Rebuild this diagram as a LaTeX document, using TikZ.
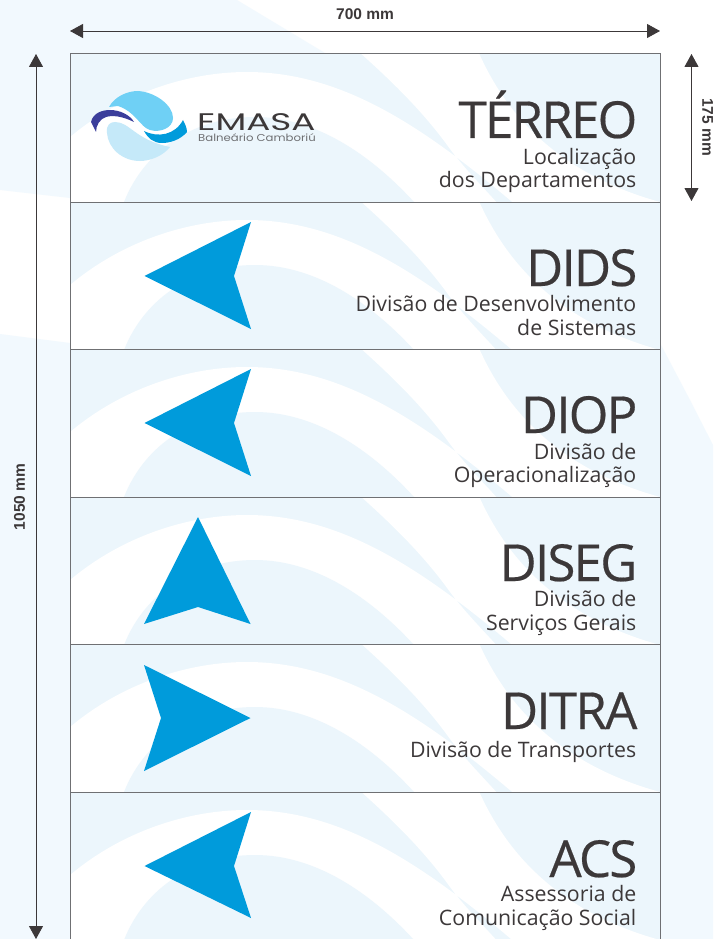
\documentclass[tikz,border=0pt]{standalone}
\usepackage{fontspec}
\setmainfont{Open Sans}
\newfontfamily\titlefont[LetterSpace=-3.5,FakeBold=0.35]{Open Sans}
\newfontfamily\dimfont{Liberation Sans}
\newfontfamily\logofont{Poppins}
\usetikzlibrary{arrows.meta}
\definecolor{paneltint}{HTML}{ECF6FC}
\definecolor{pagetint}{HTML}{F2F9FE}
\definecolor{inkdark}{HTML}{3C3839}
\definecolor{signblue}{HTML}{009BDB}
\definecolor{framegray}{HTML}{6F7073}
\definecolor{logolight}{HTML}{6FD0F5}
\definecolor{logopale}{HTML}{C5E9F9}
\definecolor{logonavy}{HTML}{3B3E9B}
\tikzset{
  titletext/.style={anchor=base east,inner sep=0pt,text=inkdark,font=\titlefont\fontsize{51}{51}\selectfont},
  subtext/.style={anchor=base east,inner sep=0pt,text=inkdark,font=\fontsize{21.3}{24}\selectfont},
  dimtext/.style={inner sep=0pt,text=inkdark,font=\dimfont\bfseries\fontsize{15.5}{15.5}\selectfont},
  dimline/.style={draw=inkdark,line width=0.9pt,{Triangle[length=13pt,width=14pt]}-{Triangle[length=13pt,width=14pt]}},
  panelframe/.style={draw=framegray,line width=1pt}
}
\newcommand{\panelbg}[1]{%
  \begin{scope}[shift={(0,#1)}]
    \begin{scope}
      \clip (70,0) rectangle (660,148);
      \fill[paneltint] (70,0) rectangle (660,148);
      \fill[white,even odd rule]
        (60,92) .. controls (110,45) and (180,18) .. (247,18) .. controls (340,18) and (420,70) .. (511,147) -- (530,165) -- (60,165) -- cycle
        (358,-3) .. controls (395,30) and (425,60) .. (450,95) .. controls (465,115) and (480,130) .. (500,152) -- (505,165) -- (680,165) -- (680,150) -- (660,148) .. controls (540,115) and (497,40) .. (478,-3) -- cycle;
      \fill[paneltint] (118,165) -- (124,148) .. controls (145,95) and (195,63) .. (255,63) .. controls (315,63) and (370,100) .. (414,148) -- (430,165) -- cycle;
    \end{scope}
    \draw[panelframe] (70,0) rectangle (660,148);
  \end{scope}}
\begin{document}
\begin{tikzpicture}[x=1pt,y=-1pt]
\useasboundingbox (0,0) rectangle (713,939);
\fill[white] (0,0) rectangle (713,939);
% page background
\fill[pagetint] (0,0) -- (237,0) -- (325,53) -- (325,210) -- (70,198) -- (0,190) -- cycle;
\fill[pagetint] (0,334) -- (70,343) -- (70,939) -- (0,939) -- cycle;
\fill[pagetint] (660,343) -- (690,400) -- (713,445) -- (713,939) -- (660,939) -- cycle;
% panels
\panelbg{54}\panelbg{202}\panelbg{349}\panelbg{497}\panelbg{644}\panelbg{792}
% logo
\fill[logolight] (109,107) .. controls (115,96) and (128,91) .. (138,91) .. controls (155,92) and (173,105) .. (173,118) .. controls (173,128) and (160,133) .. (150,130) .. controls (140,127) and (136,112) .. (118,106) -- cycle;
\fill[logopale] (107,133) .. controls (106,125) and (110,122) .. (115,122) .. controls (130,122) and (135,140) .. (170,147) .. controls (163,156) and (150,161) .. (140,161) .. controls (122,161) and (108,148) .. (107,133) -- cycle;
\fill[logonavy] (91,122) .. controls (93,113) and (102,110) .. (110,110) .. controls (120,110) and (130,115) .. (134,122) .. controls (122,116) and (112,115) .. (106,117) .. controls (100,119) and (96,125) .. (96,132) -- cycle;
\fill[signblue] (144,131) .. controls (158,138) and (175,135) .. (183,120) .. controls (185,124) and (187,128) .. (187,132) .. controls (180,140) and (170,143) .. (162,143) .. controls (153,143) and (148,138) .. (144,131) -- cycle;
\node[inner sep=0pt,anchor=base west,text=inkdark] (logoname) at (197,130.5) {\scalebox{1.49}[1]{\logofont\fontsize{24}{24}\selectfont EMASA}};
\node[inner sep=0pt,anchor=base west,text=framegray] (logoplace) at (198,141.5) {\scalebox{1.17}[1]{\logofont\fontsize{10}{10}\selectfont Balneário Camboriú}};
% sign arrows
\fill[signblue] (144.5,276) -- (251,222) -- (234,276) -- (251,329) -- cycle;
\fill[signblue] (144.5,423) -- (251,369) -- (234,423) -- (251,476) -- cycle;
\fill[signblue] (198,517) -- (250.5,624) -- (198,607) -- (144,624) -- cycle;
\fill[signblue] (144,665) -- (250.5,718) -- (144,771) -- (161,718) -- cycle;
\fill[signblue] (144.5,866) -- (251,812) -- (234,866) -- (251,918) -- cycle;
% texts
\node[titletext] (t1) at (637.5,138) {TÉRREO};
\node[subtext] (s1a) at (636.5,164) {Localização};
\node[subtext] (s1b) at (636.5,187) {dos Departamentos};
\node[titletext] (t2) at (637.5,286) {DIDS};
\node[subtext] (s2a) at (636.5,311) {Divisão de Desenvolvimento};
\node[subtext] (s2b) at (636.5,335) {de Sistemas};
\node[titletext] (t3) at (637.5,433) {DIOP};
\node[subtext] (s3a) at (636.5,459) {Divisão de};
\node[subtext] (s3b) at (636.5,482) {Operacionalização};
\node[titletext] (t4) at (637.5,581) {DISEG};
\node[subtext] (s4a) at (636.5,606) {Divisão de};
\node[subtext] (s4b) at (636.5,630) {Serviços Gerais};
\node[titletext] (t5) at (637.5,729) {DITRA};
\node[subtext] (s5a) at (636.5,757) {Divisão de Transportes};
\node[titletext] (t6) at (637.5,877) {ACS};
\node[subtext] (s6a) at (636.5,901) {Assessoria de};
\node[subtext] (s6b) at (636.5,925) {Comunicação Social};
% dimensions
\coordinate (wl) at (70,31); \coordinate (wr) at (660,31);
\coordinate (ht) at (36,54); \coordinate (hb) at (36,939);
\coordinate (st) at (691.5,54); \coordinate (sb) at (691.5,201);
\draw[dimline] (wl) -- (wr);
\draw[dimline] (ht) -- (hb);
\draw[dimline] (st) -- (sb);
\node[dimtext] (dw) at (365,14.5) {700 mm};
\node[dimtext,rotate=90] (dh) at (19.5,497) {1050 mm};
\node[dimtext,rotate=-90] (ds) at (707.5,127) {175 mm};
\end{tikzpicture}
\end{document}
